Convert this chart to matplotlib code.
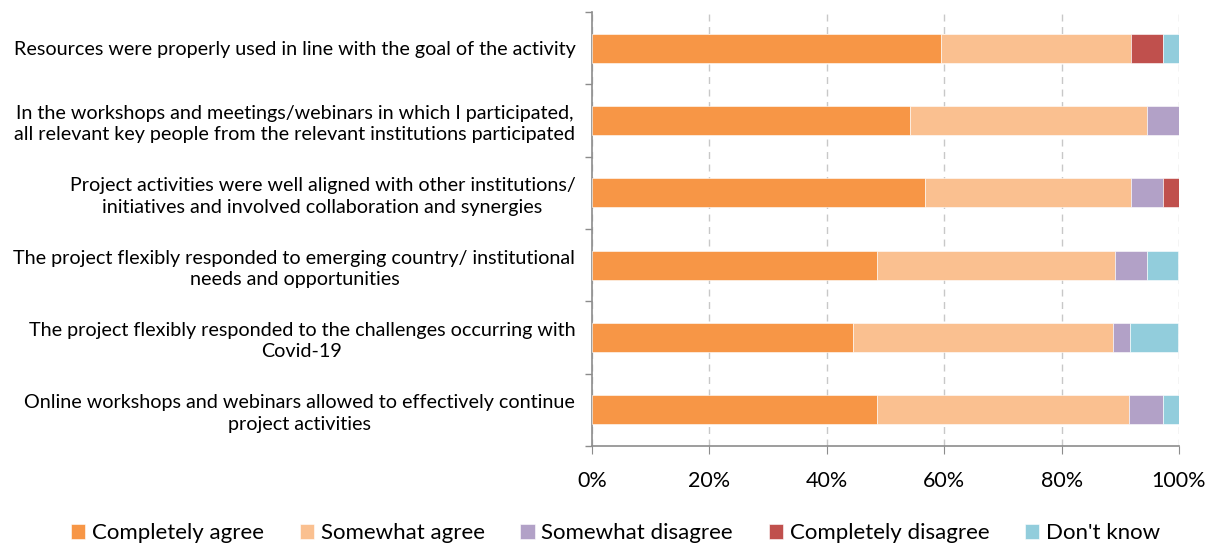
import numpy as np
import matplotlib
matplotlib.use("Agg")
from matplotlib import pyplot as plt
from matplotlib.ticker import FixedLocator, PercentFormatter

plt.rcParams['font.family'] = ['Lato', 'DejaVu Sans']

statements = [
    "Resources were properly used in line with the goal of the activity",
    "In the workshops and meetings/webinars in which I participated,\nall relevant key people from the relevant institutions participated",
    "Project activities were well aligned with other institutions/\ninitiatives and involved collaboration and synergies",
    "The project flexibly responded to emerging country/ institutional\nneeds and opportunities",
    "The project flexibly responded to the challenges occurring with\nCovid-19",
    "Online workshops and webinars allowed to effectively continue\nproject activities",
]
answers = ["Completely agree", "Somewhat agree", "Somewhat disagree",
           "Completely disagree", "Don't know"]
completely_agree = [59.5, 54.1, 56.8, 48.6, 44.4, 48.6]
somewhat_agree = [32.4, 40.5, 35.1, 40.5, 44.4, 42.9]
somewhat_disagree = [0.0, 5.4, 5.4, 5.4, 2.8, 5.7]
completely_disagree = [5.4, 0.0, 2.7, 0.0, 0.0, 0.0]
dont_know = [2.7, 0.0, 0.0, 5.4, 8.3, 2.9]
colors = ['#F79646', '#FAC090', '#B2A1C7', '#C0504D', '#92CDDC']

series = [completely_agree, somewhat_agree, somewhat_disagree,
          completely_disagree, dont_know]

fig = plt.figure(figsize=(12.14, 5.44), dpi=100)
ax = fig.add_axes([592 / 1214, 98 / 544, 587 / 1214, 434 / 544])

y = np.arange(len(statements))
left = np.zeros(len(statements))
for vals, name, c in zip(series, answers, colors):
    vals = np.array(vals)
    ax.barh(y, vals, left=left, height=0.4, color=c, label=name,
            edgecolor='white', linewidth=0.4, zorder=3)
    left += vals

ax.set_xlim(0, 100)
ax.set_ylim(len(statements) - 0.5, -0.5)
ax.xaxis.set_major_locator(FixedLocator([0, 20, 40, 60, 80, 100]))
ax.xaxis.set_major_formatter(PercentFormatter(decimals=0))
ax.grid(axis='x', color='#c8c8c8', linestyle=(0, (5, 4)), linewidth=1.0, zorder=0)

ax.set_yticks(y)
ax.set_yticklabels(statements, multialignment='center', fontsize=14.2, linespacing=1.3)
ax.yaxis.set_minor_locator(FixedLocator(np.arange(-0.5, len(statements), 1)))
ax.tick_params(axis='y', which='major', length=0, pad=12)
ax.tick_params(axis='y', which='minor', length=5, color='#8c8c8c', width=1)
ax.tick_params(axis='x', length=6, color='#8c8c8c', labelsize=15.5, pad=12)

for s in ['top', 'right']:
    ax.spines[s].set_visible(False)
for s in ['left', 'bottom']:
    ax.spines[s].set_color('#8c8c8c')
    ax.spines[s].set_linewidth(1.2)

fig.legend(loc='lower center', bbox_to_anchor=(0.507, -0.035), ncol=5, frameon=False,
           fontsize=16, handlelength=0.65, handleheight=0.65, handletextpad=0.3,
           columnspacing=1.6)

fig.savefig('out.png', dpi=100)
